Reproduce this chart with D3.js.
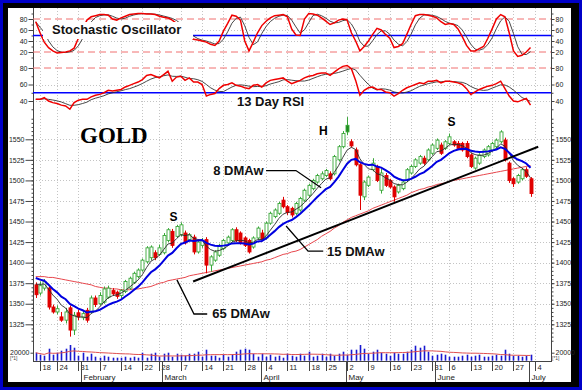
<!DOCTYPE html>
<html>
<head>
<meta charset="utf-8">
<script src="https://cdn.jsdelivr.net/npm/d3@7"></script>
<style>
  body { margin: 0; background: #fff; }
  svg { display: block; }
</style>
</head>
<body>
<script>
// ---- data (gold, daily, 2011) ----
const tradingDays = ("01-14 01-18 01-19 01-20 01-21 01-24 01-25 01-26 01-27 01-28 01-31 " +
  "02-01 02-02 02-03 02-04 02-07 02-08 02-09 02-10 02-11 02-14 02-15 02-16 02-17 02-18 02-22 02-23 02-24 02-25 02-28 " +
  "03-01 03-02 03-03 03-04 03-07 03-08 03-09 03-10 03-11 03-14 03-15 03-16 03-17 03-18 03-21 03-22 03-23 03-24 03-25 03-28 03-29 03-30 03-31 " +
  "04-01 04-04 04-05 04-06 04-07 04-08 04-11 04-12 04-13 04-14 04-15 04-18 04-19 04-20 04-21 04-25 04-26 04-27 04-28 04-29 " +
  "05-02 05-03 05-04 05-05 05-06 05-09 05-10 05-11 05-12 05-13 05-16 05-17 05-18 05-19 05-20 05-23 05-24 05-25 05-26 05-27 05-31 " +
  "06-01 06-02 06-03 06-06 06-07 06-08 06-09 06-10 06-13 06-14 06-15 06-16 06-17 06-20 06-21 06-22 06-23 06-24 06-27 06-28 06-29 06-30 " +
  "07-01").split(' ');

const opens = [1373,1363,1369,1369,1346,1340,1334,1330,1345,1318, 1339,1333,1342,1340,1357,1350,1352,1358,1366,1364,
  1360,1365,1369,1376,1383,1391,1401,1406,1412,1410, 1412,1427,1438,1432,1434,1436,1428,1431,1413,1421,
  1428,1397,1403,1409,1417,1424,1427,1440,1436,1430, 1427,1419,1430,1436,1430,1448,1456,1460,1476,1468,
  1466,1460,1464,1476,1482,1490,1498,1502,1506,1508, 1508,1525,1541,1567,1547,1537,1519,1480,1494,1513,
  1517,1488,1506,1500,1492,1486,1490,1500,1509,1517, 1521,1527,1525,1533,1539,1543,1539,1545,1547,1545,
  1545,1545,1531,1515,1521,1529,1531,1537,1541,1547, 1549,1521,1502,1498,1502,1513,1502];
const highs = [1376,1377,1380,1372,1349,1348,1340,1345,1348,1340, 1343,1342,1345,1360,1360,1364,1371,1372,1369,1366,
  1368,1379,1383,1389,1393,1405,1420,1421,1415,1422, 1436,1442,1441,1446,1449,1439,1436,1434,1427,1430,
  1431,1409,1415,1423,1429,1433,1442,1443,1438,1432, 1429,1432,1444,1440,1450,1462,1466,1474,1480,1470,
  1468,1474,1480,1490,1496,1502,1508,1511,1514,1511, 1531,1543,1560,1577,1550,1540,1521,1500,1506,1527,
  1519,1514,1509,1502,1494,1496,1500,1515,1519,1527, 1531,1530,1539,1545,1551,1546,1549,1557,1549,1548,
  1547,1548,1533,1529,1533,1539,1543,1547,1551,1561, 1552,1523,1504,1508,1515,1516,1504];
const lows = [1357,1360,1366,1343,1338,1337,1328,1326,1310,1312, 1330,1330,1327,1338,1346,1348,1350,1356,1360,1356,
  1357,1363,1367,1374,1381,1389,1399,1403,1403,1408, 1410,1425,1418,1430,1432,1422,1426,1410,1411,1418,
  1387,1389,1401,1407,1415,1422,1425,1425,1422,1419, 1411,1417,1428,1426,1428,1446,1454,1458,1466,1458,
  1455,1458,1462,1474,1480,1488,1496,1500,1504,1500, 1506,1523,1539,1555,1540,1517,1464,1476,1492,1511,
  1498,1484,1492,1490,1474,1484,1488,1498,1507,1515, 1519,1519,1523,1531,1537,1531,1537,1543,1541,1537,
  1535,1527,1515,1513,1519,1527,1529,1535,1539,1545, 1523,1497,1492,1496,1500,1503,1480];
const closes = [1361,1372,1377,1346,1340,1344,1330,1340,1318,1336, 1334,1338,1330,1357,1349,1360,1368,1369,1362,1359,
  1366,1377,1381,1387,1391,1403,1418,1419,1406,1418, 1433,1440,1421,1444,1446,1424,1434,1413,1425,1427,
  1397,1407,1413,1421,1427,1431,1440,1427,1424,1421, 1413,1430,1442,1428,1448,1460,1464,1472,1468,1461,
  1458,1472,1478,1488,1494,1500,1506,1508,1512,1502, 1529,1541,1557,1559,1542,1519,1482,1498,1504,1521,
  1500,1509,1494,1492,1480,1494,1498,1513,1517,1525, 1529,1521,1537,1543,1549,1533,1547,1553,1543,1539,
  1537,1529,1517,1527,1531,1537,1541,1545,1549,1559, 1525,1500,1496,1506,1513,1505,1484];
// closes before the first bar, only used to start the weighted averages
const warmupCloses = [1383,1405,1414,1405,1421,1422,1378,1373,1372,1369,1376,1384,1387,1372];

const dma65 = [1383,1383,1383,1382,1382,1381,1380,1379,1378,1377, 1376,1375,1374,1373,1371,1370,1369,1369,1368,1368,
  1367,1367,1367,1368,1368,1369,1370,1371,1373,1375, 1376,1378,1379,1380,1381,1382,1384,1385,1386,1387,
  1388,1389,1390,1391,1392,1393,1394,1395,1396,1397, 1398,1399,1400,1401,1403,1404,1406,1408,1410,1411,
  1413,1414,1416,1419,1422,1425,1428,1432,1435,1438, 1442,1445,1449,1452,1455,1457,1459,1461,1463,1466,
  1468,1470,1472,1474,1476,1478,1480,1482,1485,1487, 1489,1490,1492,1493,1495,1496,1497,1499,1500,1501,
  1502,1503,1504,1505,1506,1507,1508,1509,1510,1511, 1512,1513,1514,1515,1516,1517,1518];

const stochK = [75,55,38,28,22,18,19,20,22,27, 45,62,78,84,86,88,88,87,80,78, 82,85,88,89,90,90,89,89,88,85,
  83,82,78,72,64,56,48,43,42,40, 38,34,32,40,58,72,87,85,78,40, 22,38,55,68,76,82,86,87,88,84,
  62,51,50,80,90,89,87,82,76,70, 73,78,80,78,55,40,22,30,40,52, 63,60,52,45,28,30,35,52,70,86,
  88,88,87,85,82,75,70,72,70,62, 48,32,22,22,26,30,45,62,80,88, 84,55,22,12,14,20,28];

const rsi13 = [42,42,44,40,38,37,35,34,30,38, 41,42,42,45,47,48,50,53,52,53, 54,57,59,61,63,66,71,72,70,68,
  72,76,64,69,70,65,68,63,63,60, 46,48,49,55,59,60,62,59,58,56, 55,59,60,57,62,65,66,67,68,64,
  61,63,65,68,70,71,73,74,74,71, 75,79,82,83,79,65,47,53,56,57, 54,54,51,50,46,49,53,56,58,60,
  62,61,64,64,65,62,64,64,63,62, 60,55,48,51,54,56,58,59,61,64, 55,46,40,39,41,43,35];

const volume = [20000,15000,12500,30000,15000,20000,25000,30000,45000,32500, 12500,20000,10000,17500,10000,7500,12500,10000,7500,7500,
  7500,10000,7500,10000,7500,20000,7500,17500,20000,10000, 17500,20000,10000,17500,15000,12500,17500,17500,22500,10000,
  27500,12500,12500,7500,15000,10000,15000,22500,27500,30000, 27500,17500,10000,17500,10000,15000,10000,12500,7500,17500,
  12500,10000,17500,12500,22500,10000,12500,17500,10000,17500, 12500,17500,22500,15000,27500,27500,40000,30000,17500,22500,
  27500,20000,17500,12500,20000,17500,17500,22500,27500,37500, 32500,37500,22500,12500,15000,17500,15000,10000,10000,10000,
  12500,15000,10000,12500,15000,10000,10000,12500,15000,12500, 27500,17500,12500,12500,10000,12500,15000];

const priceTicks = [1325, 1350, 1375, 1400, 1425, 1450, 1475, 1500, 1525, 1550];
const stochTicks = [20, 40, 60, 80];
const rsiTicks = [40, 60, 80];
const volTicks = [20000];

const patternLabels = ['S', 'H', 'S'];
const maNames = ['8 DMAw', '15 DMAw', '65 DMAw'];

// ---- setup ----
const W = 582, H = 390;
const FONT = '"Liberation Sans", Arial, Helvetica, sans-serif';
const GREEN = '#39a839', RED = '#e00000';

const parse = d3.timeParse('%Y-%m-%d');
const days = tradingDays.map(d => parse('2011-' + d));
const n = days.length;

const svg = d3.select('body').append('svg').attr('width', W).attr('height', H);

// frame
svg.append('rect').attr('width', W).attr('height', H).attr('fill', '#0000c8');
svg.append('rect').attr('x', 3).attr('y', 3).attr('width', W - 6).attr('height', H - 6).attr('fill', '#000');
svg.append('rect').attr('x', 8).attr('y', 8).attr('width', 563).attr('height', 374).attr('fill', '#fff');

// scales
const x = d3.scaleLinear().domain([-0.643, 120.8]).range([33, 551]);
const yS = d3.scaleLinear().domain([0, 100]).range([63, 8]);
const yR = d3.scaleLinear().domain([40, 80]).range([101, 68]);
const yP = d3.scaleLinear().domain([1325, 1550]).range([324.3, 139.3]);
const yV = d3.scaleLinear().domain([0, 20000]).range([360.7, 352.7]);
const cx = i => Math.round(x(i)) + 0.5;

const defs = svg.append('defs');
function clip(id, y0, y1) {
  defs.append('clipPath').attr('id', id).append('rect')
    .attr('x', 33).attr('y', y0).attr('width', 518).attr('height', y1 - y0);
  return `url(#${id})`;
}
const clipS = clip('cs', 8, 63), clipR = clip('cr', 63, 114), clipP = clip('cp', 114, 345), clipV = clip('cv', 345, 361);

// derived averages
function wma(series, period, offset) {
  return d3.range(n).map(i => {
    let num = 0, den = 0;
    for (let k = 0; k < period; k++) {
      const j = i + offset - k;
      if (j < 0) break;
      num += series[j] * (period - k); den += period - k;
    }
    return num / den;
  });
}
function sma(arr, p) {
  return arr.map((v, i) => d3.mean(arr.slice(Math.max(0, i - p + 1), i + 1)));
}
const allCloses = warmupCloses.concat(closes);
const ma8 = wma(allCloses, 8, warmupCloses.length);
const ma15 = wma(allCloses, 15, warmupCloses.length);
const stochD = sma(stochK, 3);
const rsiSig = sma(rsi13, 5);
const volMa = sma(volume, 20);

// ticks on the time axis
const weekTicks = [];
const monthTicks = [];
days.forEach((d, i) => {
  if (i === 0) return;
  if (+d3.timeMonday.floor(d) !== +d3.timeMonday.floor(days[i - 1])) weekTicks.push({ i, label: d.getDate() });
  if (d.getMonth() !== days[i - 1].getMonth()) monthTicks.push({ i, label: d3.timeFormat('%B')(d) });
});
weekTicks.push({ i: n, label: d3.timeMonday.ceil(d3.timeDay.offset(days[n - 1], 1)).getDate() });

// ---- grid ----
const grid = svg.append('g').attr('stroke', '#c4c4c4').attr('stroke-dasharray', '1,2').attr('stroke-width', 1);
weekTicks.forEach(t => {
  grid.append('line').attr('x1', cx(t.i)).attr('x2', cx(t.i)).attr('y1', 8).attr('y2', 361);
});
function hGrid(vals, scale) {
  vals.forEach(v => {
    const py = Math.round(scale(v)) + 0.5;
    grid.append('line').attr('x1', 33).attr('x2', 551).attr('y1', py).attr('y2', py);
  });
}
hGrid([40, 60], yS);
hGrid([60, 40], yR);
hGrid(priceTicks, yP);

// ---- axes ----
svg.append('line').attr('x1', 33.5).attr('x2', 33.5).attr('y1', 8).attr('y2', 362).attr('stroke', '#444');
svg.append('line').attr('x1', 551.5).attr('x2', 551.5).attr('y1', 8).attr('y2', 362).attr('stroke', '#444');

function drawYAxis(scale, major, minor, bigTick) {
  [[33.5, d3.axisLeft, bigTick], [551.5, d3.axisRight, 3]].forEach(([px, axisFn, size]) => {
    const gMinor = svg.append('g').attr('transform', `translate(${px},0)`)
      .call(axisFn(scale).tickValues(minor).tickSize(2).tickFormat(''));
    const gMajor = svg.append('g').attr('transform', `translate(${px},0)`)
      .call(axisFn(scale).tickValues(major).tickSize(size).tickPadding(1).tickFormat(d3.format('d')));
    [gMinor, gMajor].forEach(g => {
      g.select('.domain').remove();
      g.selectAll('line').attr('stroke', '#444');
    });
    gMajor.attr('font-size', 7).attr('font-family', FONT);
    gMajor.selectAll('text').attr('fill', '#222');
  });
}
drawYAxis(yS, stochTicks, [10, 30, 50, 70, 90], 5);
drawYAxis(yR, rsiTicks, [30, 50, 70], 5);
drawYAxis(yP, priceTicks, d3.range(1305, 1580, 5), 8);
drawYAxis(yV, volTicks, [], 3);
[[10, 'start'], [552, 'start']].forEach(([px]) => {
  svg.append('text').attr('x', px).attr('y', 360).attr('font-size', 5).attr('font-family', FONT)
    .attr('fill', '#444').text('[*1]');
});

// time axis
const xa = svg.append('g').attr('font-family', FONT).attr('fill', '#222');
xa.append('line').attr('x1', 33).attr('x2', 552).attr('y1', 361.5).attr('y2', 361.5).attr('stroke', '#444');
weekTicks.forEach(t => {
  xa.append('line').attr('x1', cx(t.i)).attr('x2', cx(t.i)).attr('y1', 361.5).attr('y2', 371).attr('stroke', '#444');
  xa.append('text').attr('x', cx(t.i) + 2).attr('y', 370).attr('font-size', 7.5).text(t.label);
});
monthTicks.forEach(t => {
  const px = Math.round(x(t.i - 0.3)) + 0.5;
  xa.append('line').attr('x1', px).attr('x2', px).attr('y1', 361.5).attr('y2', 382).attr('stroke', '#444');
  xa.append('text').attr('x', px + 2).attr('y', 380).attr('font-size', 8).text(t.label);
});

// ---- stochastic panel ----
function refLine(scale, v, color, dash, width, clipPath) {
  svg.append('line').attr('clip-path', clipPath)
    .attr('x1', 33).attr('x2', 551).attr('y1', scale(v)).attr('y2', scale(v))
    .attr('stroke', color).attr('stroke-width', width).attr('stroke-dasharray', dash);
}
refLine(yS, 80, '#f07070', '7,4', 1, clipS);
refLine(yS, 20, '#f07070', '7,4', 1, clipS);
refLine(yS, 50, '#0000ff', null, 1.6, clipS);

const lineOf = scale => d3.line().x((d, i) => x(i)).y(d => scale(d));
svg.append('path').datum(stochD).attr('clip-path', clipS).attr('d', lineOf(yS))
  .attr('fill', 'none').attr('stroke', '#333').attr('stroke-width', 0.9);
svg.append('path').datum(stochK).attr('clip-path', clipS).attr('d', lineOf(yS))
  .attr('fill', 'none').attr('stroke', '#f00000').attr('stroke-width', 1.5);

svg.append('rect').attr('x', 43).attr('y', 22).attr('width', 150).attr('height', 17).attr('fill', '#fff');
svg.append('text').attr('x', 52).attr('y', 34).attr('font-family', FONT).attr('font-weight', 'bold')
  .attr('font-size', 13).attr('fill', '#111').text('Stochastic Oscillator');

// ---- RSI panel ----
refLine(yR, 80, '#f07070', '7,4', 1, clipR);
refLine(yR, 50, '#0000ff', null, 1.6, clipR);
svg.append('path').datum(rsiSig).attr('clip-path', clipR).attr('d', lineOf(yR))
  .attr('fill', 'none').attr('stroke', '#333').attr('stroke-width', 0.9);
svg.append('path').datum(rsi13).attr('clip-path', clipR).attr('d', lineOf(yR))
  .attr('fill', 'none').attr('stroke', '#f00000').attr('stroke-width', 1.5);
svg.append('rect').attr('x', 234).attr('y', 95).attr('width', 74).attr('height', 14).attr('fill', '#fff');
svg.append('text').attr('x', 237).attr('y', 106).attr('font-family', FONT).attr('font-weight', 'bold')
  .attr('font-size', 13).attr('fill', '#111').text('13 Day RSI');

// ---- price panel ----
const pg = svg.append('g').attr('clip-path', clipP);
pg.append('path').datum(dma65).attr('d', lineOf(yP))
  .attr('fill', 'none').attr('stroke', '#e8474d').attr('stroke-width', 1);

const candles = closes.map((c, i) => ({
  i, o: opens[i], h: highs[i], l: lows[i], c,
  up: i === 0 ? c >= opens[i] : c >= closes[i - 1]
}));
pg.selectAll('line.wick').data(candles).join('line').attr('class', 'wick')
  .attr('x1', d => cx(d.i)).attr('x2', d => cx(d.i))
  .attr('y1', d => yP(d.h)).attr('y2', d => yP(d.l))
  .attr('stroke', d => d.up ? GREEN : RED).attr('stroke-width', 1);
pg.selectAll('rect.body').data(candles).join('rect').attr('class', 'body')
  .attr('x', d => cx(d.i) - 1.5).attr('width', 3)
  .attr('y', d => yP(Math.max(d.o, d.c)))
  .attr('height', d => Math.max(1, Math.abs(yP(d.o) - yP(d.c))))
  .attr('fill', d => d.c < d.o ? (d.up ? '#1f8a1f' : RED) : '#fff')
  .attr('stroke', d => d.up ? GREEN : RED).attr('stroke-width', 0.9);

pg.append('path').datum(ma8).attr('d', lineOf(yP))
  .attr('fill', 'none').attr('stroke', '#2a2a2a').attr('stroke-width', 0.9);
pg.append('path').datum(ma15).attr('d', lineOf(yP))
  .attr('fill', 'none').attr('stroke', '#0000e0').attr('stroke-width', 2);

// trend line drawn by the analyst
const trend = [[36.9, 1377], [117.8, 1541]];
pg.append('line')
  .attr('x1', x(trend[0][0])).attr('y1', yP(trend[0][1]))
  .attr('x2', x(trend[1][0])).attr('y2', yP(trend[1][1]))
  .attr('stroke', '#000').attr('stroke-width', 2);

// title
svg.append('text').attr('x', 80).attr('y', 143)
  .attr('font-family', '"Liberation Serif", "Times New Roman", serif')
  .attr('font-weight', 'bold').attr('font-size', 23).attr('fill', '#000').text('GOLD');

// head and shoulders letters
const patternAt = [[32.3, 1450.6], [67.4, 1555.2], [97.5, 1566.2]];
patternLabels.forEach((t, k) => {
  svg.append('text').attr('x', x(patternAt[k][0])).attr('y', yP(patternAt[k][1]))
    .attr('text-anchor', 'middle').attr('font-family', FONT).attr('font-weight', 'bold')
    .attr('font-size', 12).attr('fill', '#000').text(t);
});

// moving average call-outs
const maTextAt = [[41.6, 1506.6], [68.3, 1408], [41.4, 1332.6]];
const maPointers = [
  [[54.0, 1512], [61.0, 1512], [66.9, 1491]],
  [[58.7, 1444.5], [63.85, 1414], [67.4, 1414]],
  [[33.1, 1379], [37.1, 1337.5], [40.2, 1337.5]]
];
const pointer = d3.line().x(d => x(d[0])).y(d => yP(d[1]));
maNames.forEach((t, k) => {
  svg.append('path').attr('d', pointer(maPointers[k]))
    .attr('fill', 'none').attr('stroke', '#000').attr('stroke-width', 1.3);
  svg.append('text').attr('x', x(maTextAt[k][0])).attr('y', yP(maTextAt[k][1]))
    .attr('font-family', FONT).attr('font-weight', 'bold').attr('font-size', 13)
    .attr('fill', '#111').text(t);
});

// ---- volume panel ----
const vg = svg.append('g').attr('clip-path', clipV);
vg.selectAll('rect').data(volume).join('rect')
  .attr('x', (d, i) => Math.round(x(i)) - 0.3).attr('width', 1.6)
  .attr('y', d => yV(d)).attr('height', d => yV(0) - yV(d))
  .attr('fill', '#1818d0');
vg.append('path').datum(volMa).attr('d', lineOf(yV))
  .attr('fill', 'none').attr('stroke', '#e05050').attr('stroke-width', 1);
</script>
</body>
</html>
